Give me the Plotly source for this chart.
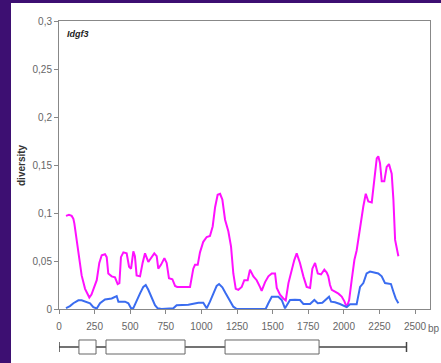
import plotly.graph_objects as go

# ---- data ----
mag_bp = [49, 70, 89, 101, 108, 124, 140, 159, 183, 200, 213, 228, 241, 265, 283, 300, 323, 335, 346, 370,
          393, 412, 424, 435, 452, 475, 492, 506, 522, 533, 545, 569, 587, 604, 627, 651, 669, 686, 697, 716,
          740, 756, 772, 796, 815, 830, 880, 920, 943, 955, 974, 990, 1013, 1037, 1060, 1079, 1096, 1114, 1131,
          1147, 1166, 1189, 1208, 1224, 1241, 1259, 1283, 1301, 1325, 1341, 1365, 1388, 1411, 1423, 1447, 1470,
          1494, 1517, 1529, 1552, 1575, 1592, 1611, 1634, 1652, 1669, 1692, 1716, 1739, 1763, 1779, 1798, 1817,
          1840, 1863, 1880, 1891, 1903, 1915, 1938, 1962, 1985, 2004, 2020, 2037, 2055, 2074, 2090, 2114, 2137,
          2154, 2172, 2196, 2214, 2231, 2242, 2254, 2266, 2284, 2301, 2317, 2336, 2348, 2360, 2371, 2383]
mag_div = [0.097, 0.098, 0.097, 0.094, 0.089, 0.072, 0.051, 0.035, 0.021, 0.015, 0.012, 0.015, 0.020, 0.030,
           0.048, 0.056, 0.057, 0.054, 0.037, 0.034, 0.033, 0.026, 0.027, 0.054, 0.059, 0.058, 0.044, 0.042,
           0.060, 0.055, 0.035, 0.034, 0.048, 0.058, 0.049, 0.054, 0.058, 0.055, 0.042, 0.046, 0.053, 0.048,
           0.032, 0.031, 0.024, 0.023, 0.023, 0.023, 0.042, 0.046, 0.046, 0.059, 0.070, 0.075, 0.076, 0.086,
           0.106, 0.119, 0.120, 0.114, 0.093, 0.081, 0.065, 0.037, 0.021, 0.020, 0.023, 0.030, 0.030, 0.041,
           0.034, 0.030, 0.023, 0.019, 0.028, 0.034, 0.037, 0.037, 0.022, 0.015, 0.011, 0.009, 0.027, 0.041,
           0.051, 0.058, 0.048, 0.034, 0.023, 0.022, 0.042, 0.048, 0.037, 0.036, 0.041, 0.038, 0.034, 0.025,
           0.020, 0.018, 0.016, 0.013, 0.008, 0.002, 0.009, 0.030, 0.051, 0.061, 0.086, 0.107, 0.120, 0.112,
           0.111, 0.134, 0.157, 0.159, 0.152, 0.133, 0.133, 0.148, 0.151, 0.141, 0.114, 0.072, 0.062, 0.055]

blue_bp = [49, 77, 101, 136, 159, 194, 218, 241, 265, 288, 323, 370, 393, 405, 417, 464, 487, 506, 522, 545,
           569, 592, 609, 627, 651, 674, 693, 720, 803, 826, 908, 979, 1013, 1037, 1060, 1084, 1107, 1124, 1147,
           1170, 1201, 1224, 1248, 1451, 1470, 1494, 1540, 1564, 1587, 1606, 1622, 1657, 1692, 1716, 1763, 1793,
           1817, 1849, 1880, 1896, 1910, 1938, 1973, 2008, 2020, 2044, 2090, 2114, 2137, 2160, 2184, 2242, 2266,
           2289, 2331, 2348, 2364, 2383]
blue_div = [0.001, 0.003, 0.006, 0.009, 0.009, 0.0076, 0.006, 0.002, 0.0005, 0.006, 0.010, 0.011, 0.013, 0.0135,
            0.0076, 0.0076, 0.006, 0.0007, 0.001, 0.0094, 0.0163, 0.023, 0.025, 0.020, 0.011, 0.004, 0.0007, 0.0,
            0.0007, 0.004, 0.0045, 0.0066, 0.0066, 0.0007, 0.0076, 0.0163, 0.024, 0.026, 0.0226, 0.0163, 0.0087,
            0.0024, 0.0, 0.0, 0.006, 0.0128, 0.0128, 0.0094, 0.0007, 0.006, 0.0094, 0.0096, 0.0094, 0.0052, 0.0052,
            0.0094, 0.006, 0.0065, 0.011, 0.0128, 0.0076, 0.007, 0.0052, 0.0024, 0.002, 0.005, 0.005, 0.023, 0.027,
            0.037, 0.039, 0.037, 0.034, 0.027, 0.026, 0.018, 0.011, 0.006]

x_ticks = [0, 250, 500, 750, 1000, 1250, 1500, 1750, 2000, 2250, 2500]
y_ticks = [0, 0.05, 0.1, 0.15, 0.2, 0.25, 0.3]
y_ticklabels = ["0", "0,05", "0,1", "0,15", "0,2", "0,25", "0,3"]

# gene structure (bp)
gene_start = 0
gene_end = 2440
exon_starts = [140, 330, 1166]
exon_ends = [260, 885, 1826]

gene_label = "Idgf3"

fig = go.Figure()
fig.add_trace(go.Scatter(x=mag_bp, y=mag_div, mode="lines",
                         line=dict(color="#ff10ff", width=2), showlegend=False, hoverinfo="skip"))
fig.add_trace(go.Scatter(x=blue_bp, y=blue_div, mode="lines",
                         line=dict(color="#3a6cf0", width=2), showlegend=False, hoverinfo="skip"))

shapes = [
    dict(type="rect", xref="paper", yref="paper", x0=-0.1294, x1=1.2, y0=-0.4, y1=1.0625,
         fillcolor="white", line=dict(width=0), layer="below"),
    dict(type="line", xref="x", yref="paper", x0=gene_start, x1=gene_end, y0=-0.1319, y1=-0.1319,
         line=dict(color="#444444", width=1.5)),
    dict(type="line", xref="x", yref="paper", x0=gene_start, x1=gene_start, y0=-0.1146, y1=-0.1493,
         line=dict(color="#444444", width=1.5)),
    dict(type="line", xref="x", yref="paper", x0=gene_end, x1=gene_end, y0=-0.1146, y1=-0.1493,
         line=dict(color="#444444", width=1.5)),
]
for s, e in zip(exon_starts, exon_ends):
    shapes.append(dict(type="rect", xref="x", yref="paper", x0=s, x1=e, y0=-0.15625, y1=-0.1076,
                       fillcolor="white", line=dict(color="#666666", width=1)))

annotations = [
    dict(text="<b><i>" + gene_label + "</i></b>", xref="paper", yref="paper", x=0.016, y=0.955,
         xanchor="left", yanchor="middle", showarrow=False,
         font=dict(family="Liberation Sans", size=9, color="#222222")),
    dict(text="<b>diversity</b>", xref="paper", yref="paper", x=-0.1024, y=0.5, textangle=-90,
         xanchor="center", yanchor="middle", showarrow=False,
         font=dict(family="Liberation Sans", size=10, color="#333333")),
    dict(text="bp", xref="paper", yref="paper", x=0.99, y=-0.066, xanchor="left", yanchor="middle",
         showarrow=False, font=dict(family="Liberation Sans", size=10, color="#666666")),
]

fig.update_layout(
    width=441, height=363,
    margin=dict(l=59, r=11, t=21, b=54, pad=0),
    paper_bgcolor="#3d0f72",
    plot_bgcolor="white",
    separators=",.",
    shapes=shapes,
    annotations=annotations,
    hovermode=False,
    xaxis=dict(range=[0, 2605], tickvals=x_ticks, ticktext=[str(v) for v in x_ticks],
               showgrid=False, zeroline=False, showline=True, mirror=True, automargin=False,
               linecolor="#888888", linewidth=1, ticks="outside", ticklen=4, tickcolor="#888888",
               ticklabelstandoff=4,
               tickfont=dict(family="Liberation Sans", size=10, color="#666666")),
    yaxis=dict(range=[0, 0.3], tickvals=y_ticks, ticktext=y_ticklabels,
               showgrid=False, zeroline=False, showline=True, mirror=True, automargin=False,
               linecolor="#888888", linewidth=1, ticks="outside", ticklen=4, tickcolor="#888888",
               tickfont=dict(family="Liberation Sans", size=10, color="#666666")),
)

fig.write_html("out.html", config={"displayModeBar": False},
               post_script="document.body.style.margin='0';document.body.style.overflow='hidden';")
